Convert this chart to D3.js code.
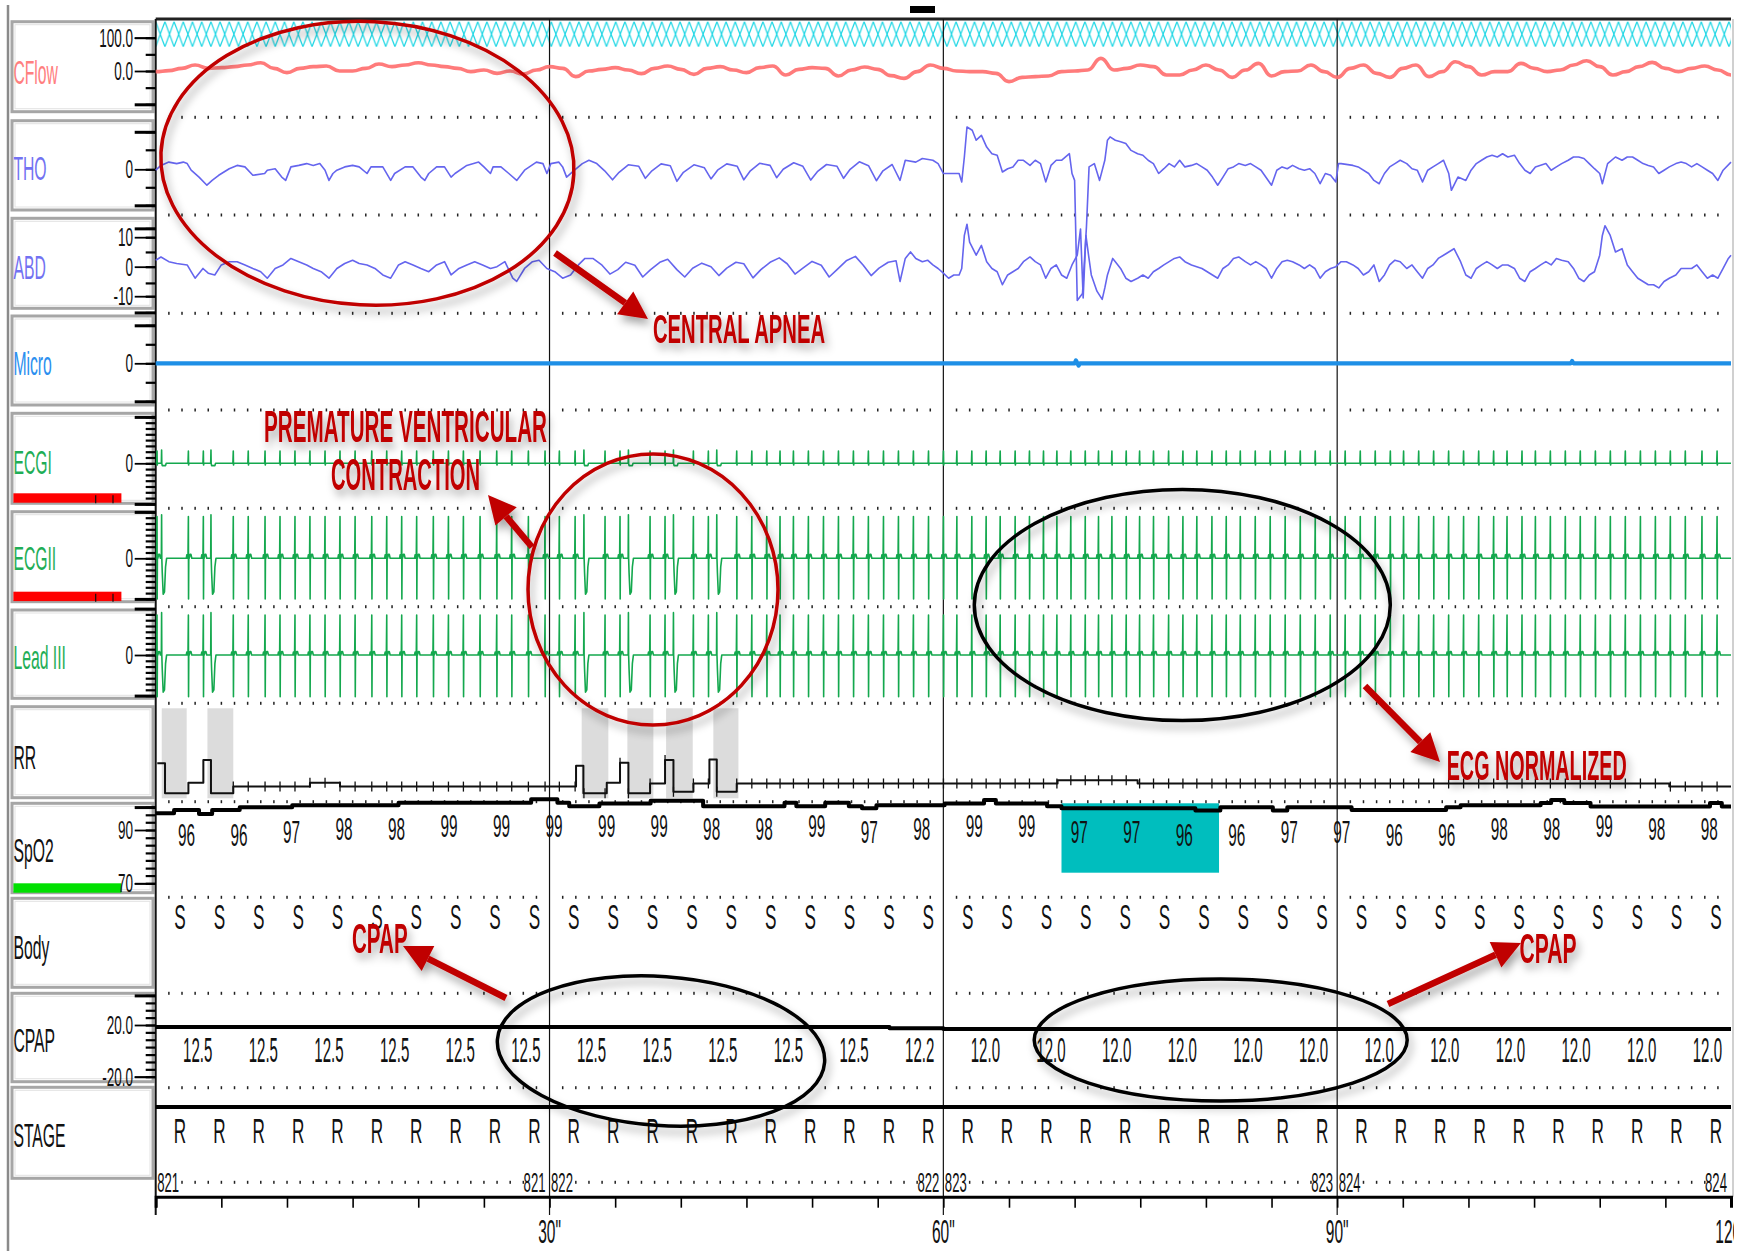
<!DOCTYPE html>
<html>
<head>
<meta charset="utf-8">
<script src="https://cdn.jsdelivr.net/npm/d3@7"></script>
<style>
body { margin: 0; background: #fff; }
svg { display: block; font-family: "Liberation Sans", Arial, sans-serif; }
</style>
</head>
<body>
<div id="chart"></div>
<script>
// ---- data (time in seconds, 0..120) ----
const channels = ['CFlow', 'THO', 'ABD', 'Micro', 'ECGI', 'ECGII', 'Lead III', 'RR', 'SpO2', 'Body', 'CPAP', 'STAGE'];
const channelColors = ['#ff7f7f', '#7272f2', '#7272f2', '#2b8fef', '#1fae57', '#1fae57', '#1fae57', '#111', '#111', '#111', '#111', '#111'];

// CFlow, one sample per second
const cflow = [-2, 1, 8, 18, 8, 10, 13, 18, 25, 8, -5, 8, 13, 15, 0, 0, 8, 21, 13, 18, 25, 18, 13, 8, -2, 3, -7, 0, -9, 3, 13, 8, -17, 0,
  5, 10, 3, -8, 8, 15, 5, -10, 8, 13, 3, -5, 10, 15, -12, 5, 10, 8, -15, 3, 12, 5, -14,
  -22, -2, 18, 8, 0, -2, -2, -7, -32, -19, -17, -15, -2, 0, 3, 38, 3, 8, 18, 13, -12, -12, 3, 18, 3, -19, 3, 23, -15, -2,
  0, 18, -2, -19, 8, 18, -7, -19, 8, 18, -17, -2, 28, 13, -12, -2, -2, 23, 8, -2, 3, 18, 31, 13, -12, -2, 13, 26, 8, -2, 8, 15, 3, -12];
const flowEvents = [[0, 120]];

const thoPoints = [[0, -0.3], [0.4, 1.3], [1, 2.4], [1.6, 1.9], [2.1, 2.4], [2.4, 1.9], [2.7, -0.3], [3.3, -2.6], [3.9, -5.3], [4.3, -3.7], [4.8, -2], [5.6, 0.2], [6.2, 1.3], [6.8, 0.8], [7.4, -2], [8.3, -1.4], [8.5, -0.3], [9.1, 0.2], [9.6, -2.6], [9.9, -3.7], [10.3, 0.8], [10.9, 1.3], [11.5, 1.9], [12, 1.3], [12.5, 1.9], [12.9, -0.3], [13.2, -3.7], [13.5, -1.4], [13.8, -0.3], [14.4, 0.8], [15, 1.3], [15.5, 0.8], [16.1, -1.4], [16.4, 0.8], [17.3, 0.8], [17.9, -3.7], [18.2, -1.4], [19, 0.8], [19.6, 0.8], [20.2, -2.6], [20.5, -3.7], [20.8, -1.4], [21.4, 0.8], [22, 0.8], [22.5, -2.6], [22.8, -1.4], [23.7, 1.3], [24.6, 2.4], [25, 0.8], [25.5, -1.4], [25.7, 0.8], [26.3, 0.8], [26.9, -1.4], [27.5, -3.7], [28.1, -0.3], [29, 2.4], [29.5, 1.9], [29.8, -1.4], [30.1, 1.9], [30.7, 2.4], [31, 0.8], [31.3, -2.6], [31.9, -0.3], [32.5, 1.9], [33, 3], [33.6, 1.9],
  [34.2, -0.5], [34.8, -3.5], [35.3, -1], [36, 1.5], [36.8, 1], [37.3, -3], [37.8, -0.5], [38.5, 1.8], [39.2, 1.2], [39.7, -4], [40.2, -1], [41, 1.5], [41.8, 0.5], [42.3, -3.2], [42.8, -0.3], [43.5, 1.8], [44.3, 1], [44.8, -3.5], [45.3, -0.5], [46, 2], [46.8, 1.3], [47.3, -2.8], [47.8, 0], [48.6, 2.2], [49.3, 1], [49.9, -3.6], [50.4, -0.8], [51.1, 1.6], [51.9, 1], [52.4, -3], [52.9, 0], [53.6, 2.5], [54.3, 1.2], [54.9, -3.8], [55.4, -0.5], [56.1, 1.6],
  [56.7, -3.7], [57.1, 3], [57.9, 2.4], [58.4, 3.6], [59.2, 3], [59.6, 1.9], [60, -1.4], [61.2, -1.4], [61.4, -4.2], [61.6, 4.1], [61.8, 14.1], [62.2, 13], [62.5, 9.7], [62.9, 11.3], [63.3, 7.4], [63.7, 5.2], [64.1, 4.7], [64.5, -0.9], [64.9, 0.2], [65.3, 0.8], [65.7, 3], [66.1, 3], [66.6, 1.3], [67, 3], [67.4, 1.9], [67.8, -4.2], [68.2, 1.3], [68.6, 3], [69, 3], [69.6, 5.2], [69.8, -1.4], [70, -3.7], [70.2, -43.7], [70.6, -41.4], [70.9, -19.2], [71.1, 0.8], [71.5, 1.9], [71.9, -3.7], [72.3, 3], [72.5, 9.7], [72.7, 10.8], [73.1, 9.7], [73.5, 9.2], [73.9, 8.6], [74.3, 6.3], [74.8, 5.2], [75.2, 4.7], [75.6, 3], [76, 1.9], [76.4, -1.4], [76.8, 0.2], [77.2, 1.9], [77.6, 0.8], [78, 3], [78.4, 0.8], [78.9, 1.3], [79.3, 1.9], [79.7, 0.8], [80.1, -0.3], [80.5, -2.6], [80.9, -5.3], [81.3, -2.6], [81.7, 0.2], [82.1, 0.8], [82.5, 1.9], [83, 1.3], [83.4, 1.9], [83.8, 0.8], [84.2, -0.3], [85, -5.3], [85.4, -0.3], [85.8, 0.8], [86.2, 0.2], [86.6, 1.3], [87.1, 0.2], [87.5, -0.3], [87.9, 0.2], [88.3, -1.4], [88.7, -4.8], [89.1, -1.4], [89.5, -2], [89.9, -4.2], [90.1, 1.9], [90.3, 1.9], [91.2, 1.3], [91.6, 0.8], [92.4, -1.4], [92.8, -3.7], [93.2, -4.8], [93.6, -1.4], [94, 0.8], [94.4, 1.9], [94.8, 3], [95.3, 1.9], [95.7, 0.2], [96.1, -0.3], [96.5, -4.2], [96.9, -0.3], [97.3, 0.8], [97.7, 1.9], [98.1, 3], [98.5, -1.4], [98.7, -7], [99.2, -2.6], [99.8, -3.7], [100.2, -0.3], [100.6, 1.9], [101, 3], [101.4, 4.1], [101.8, 4.7], [102.2, 4.1], [102.6, 5.2], [103, 4.1], [103.5, 4.7], [103.9, 1.9], [104.3, -0.3], [104.7, -1.4], [105.1, 0.8], [105.9, 1.9], [106.3, -0.3], [106.7, 0.8], [107.1, 1.9], [107.6, 3], [108, 4.1], [108.4, 4.1], [108.8, 3.6], [109.2, 1.9], [109.6, 0.2], [110, -1.4], [110.2, -4.8], [110.6, 1.9], [111.2, 4.1], [111.7, 3], [112.1, 4.1], [112.5, 4.1], [112.9, 3], [113.3, 1.9], [113.7, 1.3], [114.1, 0.8], [114.5, -1.4], [114.9, -0.3], [115.3, 0.8], [115.8, 1.9], [116.2, 2.4], [116.6, 1.9], [117, 0.8], [117.4, 1.9], [117.8, 0.8], [118.2, -0.3], [118.6, -1.4], [119, -3.7], [119.4, -0.3], [120, 2.4]];

const abdPoints = [[0, 2.2], [0.4, 3.3], [1, 1.7], [1.6, 1.1], [2.4, 0.6], [2.7, -1.7], [3, -3.9], [3.6, -0.6], [4, -2.2], [4.5, -2.8], [5, 0.6], [5.6, 1.7], [6.2, 1.7], [6.8, 0.6], [7.4, -0.6], [8, -1.7], [8.5, -3.9], [9.1, -0.6], [9.7, 0.6], [10.3, 2.8], [10.9, 1.7], [11.5, 0.6], [12, -0.6], [12.6, -1.7], [13.2, -3.9], [13.8, -0.6], [14.4, 1.1], [15, 2.2], [15.5, 1.1], [16.1, 0.6], [16.7, -0.6], [17.3, -2.8], [17.9, -3.9], [18.5, 0.6], [19, 1.7], [19.6, 0.6], [20.2, -0.6], [20.8, -1.7], [21.4, 0.6], [22, 1.7], [22.5, -2.8], [23.1, -0.6], [23.7, 0.6], [24.3, 1.7], [24.9, 0.6], [25.5, -0.6], [26, 0], [26.6, 1.7], [27.2, -3.9], [27.5, -5], [28.1, -0.6], [28.7, 1.7], [29.2, 2.2], [29.8, -0.6], [30.4, -1.7], [31, -3.9], [31.6, -2.8], [32.2, 0.6], [32.7, 2.8], [33.3, 2.8],
  [34, 0.5], [34.6, -2.5], [35.2, -1], [35.8, 1.5], [36.5, 0.5], [37.1, -3.5], [37.7, -1], [38.4, 1.5], [39, 2.5], [39.7, -1], [40.3, -3.5], [40.9, -0.5], [41.6, 1.2], [42.3, 0], [42.9, -3], [43.5, -0.5], [44.2, 1.5], [44.8, 1], [45.5, -3.8], [46.1, -1], [46.8, 1.5], [47.5, 3], [48.1, 1], [48.7, -2.5], [49.3, -0.5], [50, 1.8], [50.7, 0.5], [51.3, -3.5], [51.9, -1], [52.6, 2], [53.3, 3.5], [53.9, 0.5], [54.5, -3], [55.1, -0.5], [55.8, 1.5], [56.4, 2],
  [56.7, -5], [57.1, 2.8], [57.5, 5], [57.9, 2.8], [58.4, 1.7], [58.8, 2.2], [59.2, 0.6], [59.6, -0.6], [60, -2.2], [60.4, -3.9], [60.8, -2.8], [61.2, -2.8], [61.4, -0.6], [61.6, 10.6], [61.8, 14.4], [62, 8.3], [62.5, 3.9], [62.9, 7.2], [63.3, 1.7], [63.7, -0.6], [64.1, -1.7], [64.5, -6.1], [64.9, -2.8], [65.3, -1.7], [65.7, -0.6], [66.1, 1.7], [66.6, 3.3], [67, 1.7], [67.4, 0.6], [67.8, -3.9], [68.2, -0.6], [68.6, 0.6], [69, -2.8], [69.4, -3.9], [69.8, 0.6], [70.2, 3.9], [70.45, 12.8], [70.65, -10.6], [70.86, 10.6], [71.06, 3.9], [71.27, -2.8], [71.7, -8.3], [72.1, -11.1], [72.3, -7.2], [72.5, -2.8], [72.9, 2.8], [73.1, 1.7], [73.5, -0.6], [73.9, -3.9], [74.3, -5], [74.8, -3.9], [75.2, -2.8], [75.6, -3.9], [76, -1.7], [76.4, -0.6], [76.8, 0.6], [77.2, 1.7], [77.6, 2.8], [78, 3.3], [78.4, 1.7], [78.9, 0.6], [79.7, -0.6], [80.1, -1.7], [80.5, -2.8], [80.9, -3.9], [81.3, -0.6], [81.7, 0.6], [82.1, 2.8], [82.5, 3.3], [83, 1.7], [83.4, 0.6], [83.8, 1.7], [84.2, 0.6], [84.6, -0.6], [85, -3.9], [85.4, -0.6], [85.8, 1.7], [86.2, 2.2], [86.6, 1.7], [87.1, 0.6], [87.5, -0.6], [87.9, 0.6], [88.3, -0.6], [88.7, -3.9], [89.1, -1.7], [89.5, -0.6], [89.9, 0], [90.3, 1.7], [90.7, 1.7], [91.2, 0.6], [91.6, -0.6], [92, -2.8], [92.4, -1.7], [92.8, 0.6], [93.2, -5], [93.6, -2.8], [94, 0.6], [94.4, 2.2], [94.8, 1.7], [95.3, -0.6], [95.7, 0.6], [96.1, -1.7], [96.5, -3.9], [96.9, -0.6], [97.3, 0.6], [97.7, 2.8], [98.1, 3.9], [98.5, 5], [98.9, 6.1], [99.4, 1.7], [99.8, -2.8], [100.2, -3.9], [100.6, -0.6], [101, 0.6], [101.4, 1.7], [101.8, 0.6], [102.2, -0.6], [102.6, 0.6], [103, 0.6], [103.5, -0.6], [103.9, -3.9], [104.3, -5], [104.7, -1.7], [105.1, -0.6], [105.5, 0.6], [105.9, 1.7], [106.3, 0.6], [106.7, 2.8], [107.1, 2.2], [107.6, 1.7], [108, -0.6], [108.4, -3.9], [108.8, -5], [109.2, -2.8], [109.6, -1.7], [110, 3.9], [110.2, 10.6], [110.4, 13.9], [110.8, 10.6], [111.2, 5], [111.7, 6.1], [112.1, 0.6], [112.5, -1.7], [112.9, -3.9], [113.3, -5], [113.7, -6.1], [114.1, -6.1], [114.5, -7.2], [114.9, -5], [115.3, -3.9], [115.8, -2.8], [116.2, -0.6], [116.6, -0.6], [117, -0.6], [117.4, 0.6], [117.8, -1.7], [118.2, -3.9], [118.6, -2.8], [119, -3.9], [119.4, -0.6], [119.8, 2.8], [120, 3.9]];

const microPoints = [[0, 0], [70, 0], [70.1, 0.15], [70.3, -0.12], [70.4, 0], [107.8, 0], [107.9, 0.12], [108, 0], [120, 0]];

// heart beats (s)
const normalBeats = [0.1, 2.49, 3.63, 5.91, 7.05, 8.33, 9.47, 10.61, 11.75, 12.9, 14.04, 15.19, 16.46, 17.6, 18.74, 19.88, 21.15, 22.3, 23.44, 24.71, 25.98, 27.12, 28.39, 29.66,
  30.75, 31.95, 34.23, 35.37, 37.66, 38.8, 40.96, 42.1, 44.26, 45.41, 46.55, 47.56, 48.58, 49.72, 50.87, 52.01, 53.15, 54.29, 55.44, 56.58, 57.72, 58.87, 60.01,
  61.03, 62.17, 63.26, 64.33, 65.47, 66.56, 67.63, 68.65, 69.71, 70.81, 71.82, 72.84, 73.93, 74.95, 76.01, 77.16, 78.25, 79.31, 80.46, 81.55, 82.62, 83.76, 84.9, 86.04, 87.19, 88.33, 89.47,
  90.61, 91.76, 92.9, 94.05, 95.06, 96.21, 97.35, 98.49, 99.63, 100.78, 101.92, 102.94, 104.08, 105.1, 106.24, 107.38, 108.52, 109.67, 110.81, 111.95, 113.1, 114.24, 115.38, 116.52, 117.79, 118.94];
const pvcBeats = [0.45, 4.21, 32.62, 36.01, 39.44, 42.74];
const pvcBands = [[0.46, 2.36], [3.94, 5.91], [32.45, 34.48], [35.93, 37.91], [38.88, 40.91], [42.48, 44.39]];

// complex shapes (offset s, amplitude)
const ecg1Normal = { off: [-0.03, 0, 0.015, 0.04], val: [0, 2.1, -0.3, 0] };
const ecg1Pvc = { off: [-0.02, 0, 0.015, 0.05, 0.3, 0.35], val: [0, 2.3, 0, -0.4, -0.4, 0] };
const ecg2Normal = { off: [-0.16, -0.12, -0.08, -0.03, 0, 0.012, 0.03, 0.06, 0.13, 0.19, 0.26], val: [0, 0.6, 0, 0, 7.2, -7, 0.3, 0, 0.7, 0.7, 0] };
const ecg2Pvc = { off: [-0.02, 0, 0.015, 0.05, 0.12, 0.22, 0.3, 0.38], val: [0, 7.5, 0, -2.5, -6.2, -5.8, -1.5, 0] };
const lead3Normal = { off: [-0.16, -0.12, -0.08, -0.03, 0, 0.012, 0.03, 0.06, 0.13, 0.19, 0.26], val: [0, 0.5, 0, 0, 6.9, -7.2, 0.3, 0, 0.6, 0.6, 0] };
const lead3Pvc = { off: [-0.02, 0, 0.015, 0.05, 0.12, 0.22, 0.3, 0.38], val: [0, 7.3, 0, -2.5, -6.4, -6, -1.5, 0] };

// RR channel (bpm, step after t)
const rrPoints = [[0.12, 95], [0.71, 37], [2.49, 57.5], [3.63, 101], [4.21, 37], [5.91, 50], [11.75, 57.5], [14.04, 50], [32.02, 90], [32.58, 37], [34.36, 57.5], [35.37, 96], [36.01, 37], [37.66, 56], [38.8, 101], [39.44, 40], [40.96, 56], [42.18, 102], [42.74, 40], [44.26, 56], [68.7, 62], [74.8, 56], [115.3, 50], [120, 50]];

// SpO2 trace (%, step after t) and 4-s readouts
const spo2Points = [[0, 95.5], [1.4, 96.5], [3.3, 95.3], [4.3, 96.5], [6.4, 97.3], [10.4, 97.9], [18.5, 98.6], [28.6, 99.6], [30.6, 98.6], [31.5, 97.6], [33.8, 98.4], [37.7, 99.2], [41.7, 97.6], [47.9, 98.6], [48.8, 97.6], [51, 98.6], [52.8, 97.6], [53.8, 97], [54.9, 97.9], [60.1, 98.4], [63.1, 99.4], [64, 98.4], [67.9, 97.6], [69, 97], [79.2, 96.3], [81.1, 97.3], [85.1, 96.3], [86.2, 97.3], [91.1, 96.5], [98.3, 97.3], [99.4, 97.9], [105.5, 98.5], [106.3, 99.4], [107.3, 98.5], [109.3, 97.5], [118.4, 98.5], [119.3, 97.5], [120, 97.5]];
const spo2Values = [96, 96, 97, 98, 98, 99, 99, 99, 99, 99, 98, 98, 99, 97, 98, 99, 99, 97, 97, 96, 96, 97, 97, 96, 96, 98, 98, 99, 98, 98];
const spo2Events = [[69, 81]];

// 3-s body position and stage, 5-s CPAP readouts
const bodyPos = ['S', 'S', 'S', 'S', 'S', 'S', 'S', 'S', 'S', 'S', 'S', 'S', 'S', 'S', 'S', 'S', 'S', 'S', 'S', 'S',
  'S', 'S', 'S', 'S', 'S', 'S', 'S', 'S', 'S', 'S', 'S', 'S', 'S', 'S', 'S', 'S', 'S', 'S', 'S', 'S'];
const stages = ['R', 'R', 'R', 'R', 'R', 'R', 'R', 'R', 'R', 'R', 'R', 'R', 'R', 'R', 'R', 'R', 'R', 'R', 'R', 'R',
  'R', 'R', 'R', 'R', 'R', 'R', 'R', 'R', 'R', 'R', 'R', 'R', 'R', 'R', 'R', 'R', 'R', 'R', 'R', 'R'];
const cpapValues = [12.5, 12.5, 12.5, 12.5, 12.5, 12.5, 12.5, 12.5, 12.5, 12.5, 12.5, 12.2, 12.0, 12.0, 12.0, 12.0, 12.0, 12.0, 12.0, 12.0, 12.0, 12.0, 12.0, 12.0];
const cpapPoints = [[0, 12.5], [55.9, 12.2], [60, 12.0], [120, 12.0]];
const stagePoints = [[0, 'R'], [120, 'R']];
const epochs = [821, 822, 823, 824];
const timeLabels = ['30"', '60"', '90"', '120"'];

// ---- layout ----
const W = 1744, H = 1251;
const x0 = 155.7, x1 = 1731;
const sepY = [117.3, 215, 313.3, 410, 508.3, 606.7, 703.3, 801.7, 897.3, 993.3, 1087.7, 1182.3];
const boxTop = [21.7, 120.7, 218.3, 316, 413.3, 511.7, 610, 706.7, 803.3, 898.3, 993.3, 1087.3];
const boxBot = [111.7, 210, 308.3, 405, 503.3, 601.7, 698.3, 797.7, 892.7, 987.3, 1081.7, 1178.3];
const labelMid = [71.7, 168.3, 266.7, 363.3, 461.7, 558.3, 656.7, 756.7, 850, 946.7, 1040, 1135];
const axisY = 1196.7;

const x = d3.scaleLinear().domain([0, 120]).range([x0, x1]);
const yFlow = d3.scaleLinear().domain([-100, 100]).range([104.3, 37.7]);
const yTho = d3.scaleLinear().domain([-10, 10]).range([199.3, 139.3]);
const yAbd = d3.scaleLinear().domain([-10, 10]).range([296.2, 237.2]);
const yMicro = d3.scaleLinear().domain([-1, 1]).range([382.3, 344.3]);
const yEcg1 = d3.scaleLinear().domain([-1, 1]).range([469.1, 457.5]);
const yEcg2 = d3.scaleLinear().domain([-1, 1]).range([564.1, 552.5]);
const yLead3 = d3.scaleLinear().domain([-1, 1]).range([660.8, 649.2]);
const yRR = d3.scaleLinear().domain([30, 110]).range([797, 755.4]);
const ySpo2Axis = d3.scaleLinear().domain([70, 90]).range([883.3, 830]);
const ySpo2 = d3.scaleLinear().domain([95, 100]).range([815, 798]);
const ySpo2Label = d3.scaleLinear().domain([96, 99]).range([834, 825.5]);
const yCpapAxis = d3.scaleLinear().domain([-20, 20]).range([1076.7, 1025]);
const yCpap = d3.scaleLinear().domain([0, 12.5]).range([1080, 1027]);
const yStage = d3.scalePoint().domain(['W', 'R', 'N1', 'N2', 'N3']).range([1096, 1140]);

const svg = d3.select('#chart').append('svg').attr('width', W).attr('height', H);
const defs = svg.append('defs');

const hatch = defs.append('pattern').attr('id', 'hatch').attr('patternUnits', 'userSpaceOnUse')
  .attr('x', x0).attr('y', 21.7).attr('width', 9.2).attr('height', 25);
hatch.append('path').attr('d', 'M0,0L9.2,25M9.2,0L0,25')
  .attr('stroke', '#1ad6e4').attr('stroke-width', 1.2).attr('fill', 'none');

const shadow = defs.append('filter').attr('id', 'shadow')
  .attr('x', '-20%').attr('y', '-20%').attr('width', '140%').attr('height', '150%');
shadow.append('feDropShadow').attr('dx', 3).attr('dy', 6).attr('stdDeviation', 4)
  .attr('flood-color', '#000').attr('flood-opacity', 0.35);

// the window is cut just right of the trace area
defs.append('clipPath').attr('id', 'win').append('rect')
  .attr('x', 0).attr('y', 0).attr('width', x1 + 3).attr('height', H);

// narrow text helper: the recorder uses a tall condensed face
function ntext(g, str, tx, ty, size, sx, anchor, fill, weight) {
  return g.append('text')
    .attr('transform', `translate(${tx},${ty}) scale(${sx},1)`)
    .attr('text-anchor', anchor || 'start')
    .attr('font-size', size)
    .attr('font-weight', weight || 'normal')
    .attr('fill', fill || '#111')
    .text(str);
}

// outer left rule
svg.append('line').attr('x1', 8).attr('x2', 8).attr('y1', 5).attr('y2', H)
  .attr('stroke', '#8a8a8a').attr('stroke-width', 2.5);

// label boxes
const boxes = svg.append('g');
channels.forEach((c, i) => {
  boxes.append('rect').attr('x', 12).attr('y', boxTop[i]).attr('width', 141).attr('height', boxBot[i] - boxTop[i])
    .attr('fill', '#fff').attr('stroke', '#a6a6a6').attr('stroke-width', 3);
  boxes.append('rect').attr('x', 15).attr('y', boxTop[i] + 3).attr('width', 135).attr('height', boxBot[i] - boxTop[i] - 6)
    .attr('fill', 'none').attr('stroke', '#e2e2e2').attr('stroke-width', 1);
  ntext(boxes, c, 13.4, labelMid[i] + 12, 33.5, 0.47, 'start', channelColors[i]);
});
// quality bars
[[493.3, '#ff0000'], [591.7, '#ff0000'], [883.3, '#00e000']].forEach(b => {
  boxes.append('rect').attr('x', 13.4).attr('y', b[0]).attr('width', 108).attr('height', 9.4).attr('fill', b[1]);
});
[493.3, 591.7].forEach(yb => {
  [95.7, 113].forEach(xb => {
    boxes.append('line').attr('x1', xb).attr('x2', xb).attr('y1', yb + 2).attr('y2', yb + 10)
      .attr('stroke', '#111').attr('stroke-width', 1.2);
  });
});

// event marks
svg.append('g').selectAll('rect').data(flowEvents).join('rect')
  .attr('x', d => x(d[0])).attr('width', d => x(d[1]) - x(d[0]))
  .attr('y', 21.7).attr('height', 25).attr('fill', 'url(#hatch)');
svg.append('g').selectAll('rect').data(pvcBands).join('rect')
  .attr('x', d => x(d[0])).attr('width', d => x(d[1]) - x(d[0]))
  .attr('y', 708.3).attr('height', 90).attr('fill', '#dcdcdc');
svg.append('g').selectAll('rect').data(spo2Events).join('rect')
  .attr('x', d => x(d[0])).attr('width', d => x(d[1]) - x(d[0]))
  .attr('y', 803.3).attr('height', 69.4).attr('fill', '#00bebe');

// dotted row separators at each second
const dotSecs = d3.range(1, 120).filter(s => s % 30 !== 0);
const dots = svg.append('g').attr('fill', '#222');
sepY.forEach((sy, k) => {
  const secs = k === sepY.length - 1 ? dotSecs.filter(s => s % 30 !== 1 && s % 30 !== 29) : dotSecs;
  dots.selectAll(null).data(secs).join('rect')
    .attr('x', s => x(s) - 0.7).attr('y', sy - 1.5).attr('width', 1.5).attr('height', 3);
});

// frame and 30-s lines
svg.append('line').attr('x1', x0).attr('x2', x1).attr('y1', 19).attr('y2', 19)
  .attr('stroke', '#222').attr('stroke-width', 3);
svg.append('line').attr('x1', x1 + 2).attr('x2', x1 + 2).attr('y1', 19).attr('y2', axisY)
  .attr('stroke', '#d0d0d0').attr('stroke-width', 2);
svg.append('g').selectAll('line').data([0, 30, 60, 90]).join('line')
  .attr('x1', d => x(d)).attr('x2', d => x(d)).attr('y1', 19).attr('y2', 1215)
  .attr('stroke', '#111').attr('stroke-width', d => d === 0 ? 2 : 1.2);
svg.append('rect').attr('x', 910).attr('y', 6).attr('width', 25).attr('height', 7).attr('fill', '#000');

// time axis
const xAxis = svg.append('g').attr('transform', `translate(0,${axisY})`)
  .call(d3.axisBottom(x).tickValues(d3.range(0, 120, 5)).tickSize(11).tickFormat(''));
xAxis.select('.domain').attr('stroke-width', 3);
xAxis.selectAll('.tick line').attr('stroke-width', 1.6);
const timeG = svg.append('g');
const timeClip = svg.append('g').attr('clip-path', 'url(#win)');
timeLabels.forEach((t, i) => ntext(i === 3 ? timeClip : timeG, t, x(30 * (i + 1)), 1243, 33, 0.47, 'middle'));

// left rulers
function ruler(scale, all, major, labels) {
  const g = svg.append('g').attr('transform', `translate(${x0},0)`);
  const minor = g.append('g').call(d3.axisLeft(scale).tickValues(all).tickSize(10).tickFormat(''));
  minor.select('.domain').remove();
  minor.selectAll('line').attr('stroke-width', 2.2);
  const ends = [all[0], all[all.length - 1]];
  const big = g.append('g').call(d3.axisLeft(scale).tickValues(major.concat(ends)).tickSize(21).tickFormat(''));
  big.select('.domain').remove();
  big.selectAll('line').attr('stroke-width', d => major.includes(d) ? 1.8 : 3);
  major.forEach((v, i) => ntext(svg, labels[i], 133, scale(v) + 9, 26, 0.52, 'end'));
}
ruler(yFlow, [100, 50, 0, -50, -100], [100, 0], ['100.0', '0.0']);
ruler(yTho, [12.5, 6.5, 0, -6, -12], [0], ['0']);
ruler(yAbd, [13, 10, 5, 0, -5.5, -10, -15.5], [10, 0, -10], ['10', '0', '-10']);
ruler(yMicro, [2, 1, 0, -1, -2], [0], ['0']);
[yEcg1, yEcg2, yLead3].forEach(s => ruler(s, d3.range(8, -8, -1), [0], ['0']));
ruler(ySpo2Axis, [98.6, 95.7, 92.9, 90, 87.1, 84.3, 81.4, 78.6, 75.7, 72.9, 70], [90, 70], ['90', '70']);
ruler(yCpapAxis, [42.9, 37.1, 31.4, 25.7, 20, 14.3, 8.6, 2.9, -2.9, -8.6, -14.3, -20], [20, -20], ['20.0', '-20.0']);

// ---- traces ----
const traces = svg.append('g').attr('fill', 'none').attr('stroke-linejoin', 'round');

traces.append('path').datum(cflow)
  .attr('d', d3.line().x((d, i) => x(i)).y(d => yFlow(d)).curve(d3.curveBumpX))
  .attr('stroke', '#ff6d6d').attr('stroke-opacity', 0.9).attr('stroke-width', 3.6);

[[thoPoints, yTho], [abdPoints, yAbd]].forEach(([pts, s]) => {
  traces.append('path').datum(pts)
    .attr('d', d3.line().x(d => x(d[0])).y(d => s(d[1])))
    .attr('stroke', '#6565ee').attr('stroke-width', 1.6);
});

traces.append('path').datum(microPoints)
  .attr('d', d3.line().x(d => x(d[0])).y(d => yMicro(d[1])))
  .attr('stroke', '#1e8fe6').attr('stroke-width', 4.2);

function beatSeries(normalTpl, pvcTpl) {
  const pts = [];
  normalBeats.forEach(t => normalTpl.off.forEach((o, i) => pts.push([t + o, normalTpl.val[i]])));
  pvcBeats.forEach(t => pvcTpl.off.forEach((o, i) => pts.push([t + o, pvcTpl.val[i]])));
  pts.push([0, 0], [120, 0]);
  return pts.filter(p => p[0] >= 0 && p[0] <= 120).sort((a, b) => a[0] - b[0]);
}
[[ecg1Normal, ecg1Pvc, yEcg1], [ecg2Normal, ecg2Pvc, yEcg2], [lead3Normal, lead3Pvc, yLead3]].forEach(([n, p, s]) => {
  traces.append('path').datum(beatSeries(n, p))
    .attr('d', d3.line().x(d => x(d[0])).y(d => s(d[1])))
    .attr('stroke', '#14a84e').attr('stroke-width', 1.6);
});

traces.append('path').datum(rrPoints)
  .attr('d', d3.line().x(d => x(d[0])).y(d => yRR(d[1])).curve(d3.curveStepAfter))
  .attr('stroke', '#111').attr('stroke-width', 2);
const rrAt = t => rrPoints.filter(p => p[0] <= t).pop() || rrPoints[0];
traces.append('g').selectAll('line').data(normalBeats.concat(pvcBeats).filter(t => t > 5.9)).join('line')
  .attr('x1', d => x(d)).attr('x2', d => x(d))
  .attr('y1', d => yRR(rrAt(d)[1]) - 5).attr('y2', d => yRR(rrAt(d)[1]) + 5)
  .attr('stroke', '#111').attr('stroke-width', 1.3);

traces.append('path').datum(spo2Points)
  .attr('d', d3.line().x(d => x(d[0])).y(d => ySpo2(d[1])).curve(d3.curveStepAfter))
  .attr('stroke', '#000').attr('stroke-width', 4);

traces.append('path').datum(cpapPoints)
  .attr('d', d3.line().x(d => x(d[0])).y(d => yCpap(d[1])).curve(d3.curveStepAfter))
  .attr('stroke', '#000').attr('stroke-width', 4);

traces.append('path').datum(stagePoints)
  .attr('d', d3.line().x(d => x(d[0])).y(d => yStage(d[1])).curve(d3.curveStepAfter))
  .attr('stroke', '#000').attr('stroke-width', 4);

// ---- readouts ----
const txt = svg.append('g');
spo2Values.forEach((v, i) => ntext(txt, v, x(4 * i + 2.35), ySpo2Label(v) + 11.5, 32, 0.48, 'middle'));
bodyPos.forEach((v, i) => ntext(txt, v, x(3 * i + 1.85), 929, 35, 0.49, 'middle'));
stages.forEach((v, i) => ntext(txt, v, x(3 * i + 1.85), 1142.5, 35, 0.49, 'middle'));
cpapValues.forEach((v, i) => ntext(txt, v.toFixed(1), x(5 * i + 3.2), 1061.5, 35, 0.43, 'middle'));
epochs.forEach((e, i) => {
  ntext(txt, e, x(30 * i) + 1.5, 1191.7, 28, 0.47, 'start');
  ntext(txt, e, x(30 * (i + 1)) - 4, 1191.7, 28, 0.47, 'end');
});

// ---- annotations ----
const ann = svg.append('g').attr('filter', 'url(#shadow)');
const red = '#c00000';
[[367.4, 163.3, 206.7, 141.7, red, 3], [653, 589.5, 125, 135.6, red, 0], [1182.3, 605, 208, 115.6, '#000', 0],
  [661, 1051, 164, 74.5, '#000', 4], [1220.7, 1040, 186.5, 61, '#000', 0]].forEach(e => {
  ann.append('ellipse').attr('cx', e[0]).attr('cy', e[1]).attr('rx', e[2]).attr('ry', e[3])
    .attr('transform', `rotate(${e[5]},${e[0]},${e[1]})`)
    .attr('fill', 'none').attr('stroke', e[4]).attr('stroke-width', 3.5);
});

function arrow(xa, ya, xb, yb) {
  const a = Math.atan2(yb - ya, xb - xa), L = 28, hw = 14;
  const bx = xb - L * Math.cos(a), by = yb - L * Math.sin(a);
  ann.append('line').attr('x1', xa).attr('y1', ya).attr('x2', bx).attr('y2', by)
    .attr('stroke', red).attr('stroke-width', 6.5);
  ann.append('path')
    .attr('d', `M${xb},${yb}L${bx + hw * Math.sin(a)},${by - hw * Math.cos(a)}L${bx - hw * Math.sin(a)},${by + hw * Math.cos(a)}Z`)
    .attr('fill', red);
}
arrow(555, 253, 648, 319);
arrow(532, 547, 488, 495);
arrow(1365, 686, 1440, 762);
arrow(506, 998, 403, 946);
arrow(1388, 1004, 1521, 943);

[['CENTRAL APNEA', 653, 342.6, 40.5, 172], ['PREMATURE VENTRICULAR', 264, 441.7, 44.3, 283],
  ['CONTRACTION', 331, 490, 44.7, 149], ['ECG NORMALIZED', 1446.7, 780, 42, 180],
  ['CPAP', 352, 953, 42, 55.6], ['CPAP', 1519.5, 963, 42, 57]].forEach(a => {
  ann.append('text').attr('x', a[1]).attr('y', a[2]).attr('font-size', a[3]).attr('font-weight', 'bold')
    .attr('fill', red).attr('textLength', a[4]).attr('lengthAdjust', 'spacingAndGlyphs').text(a[0]);
});
</script>
</body>
</html>
